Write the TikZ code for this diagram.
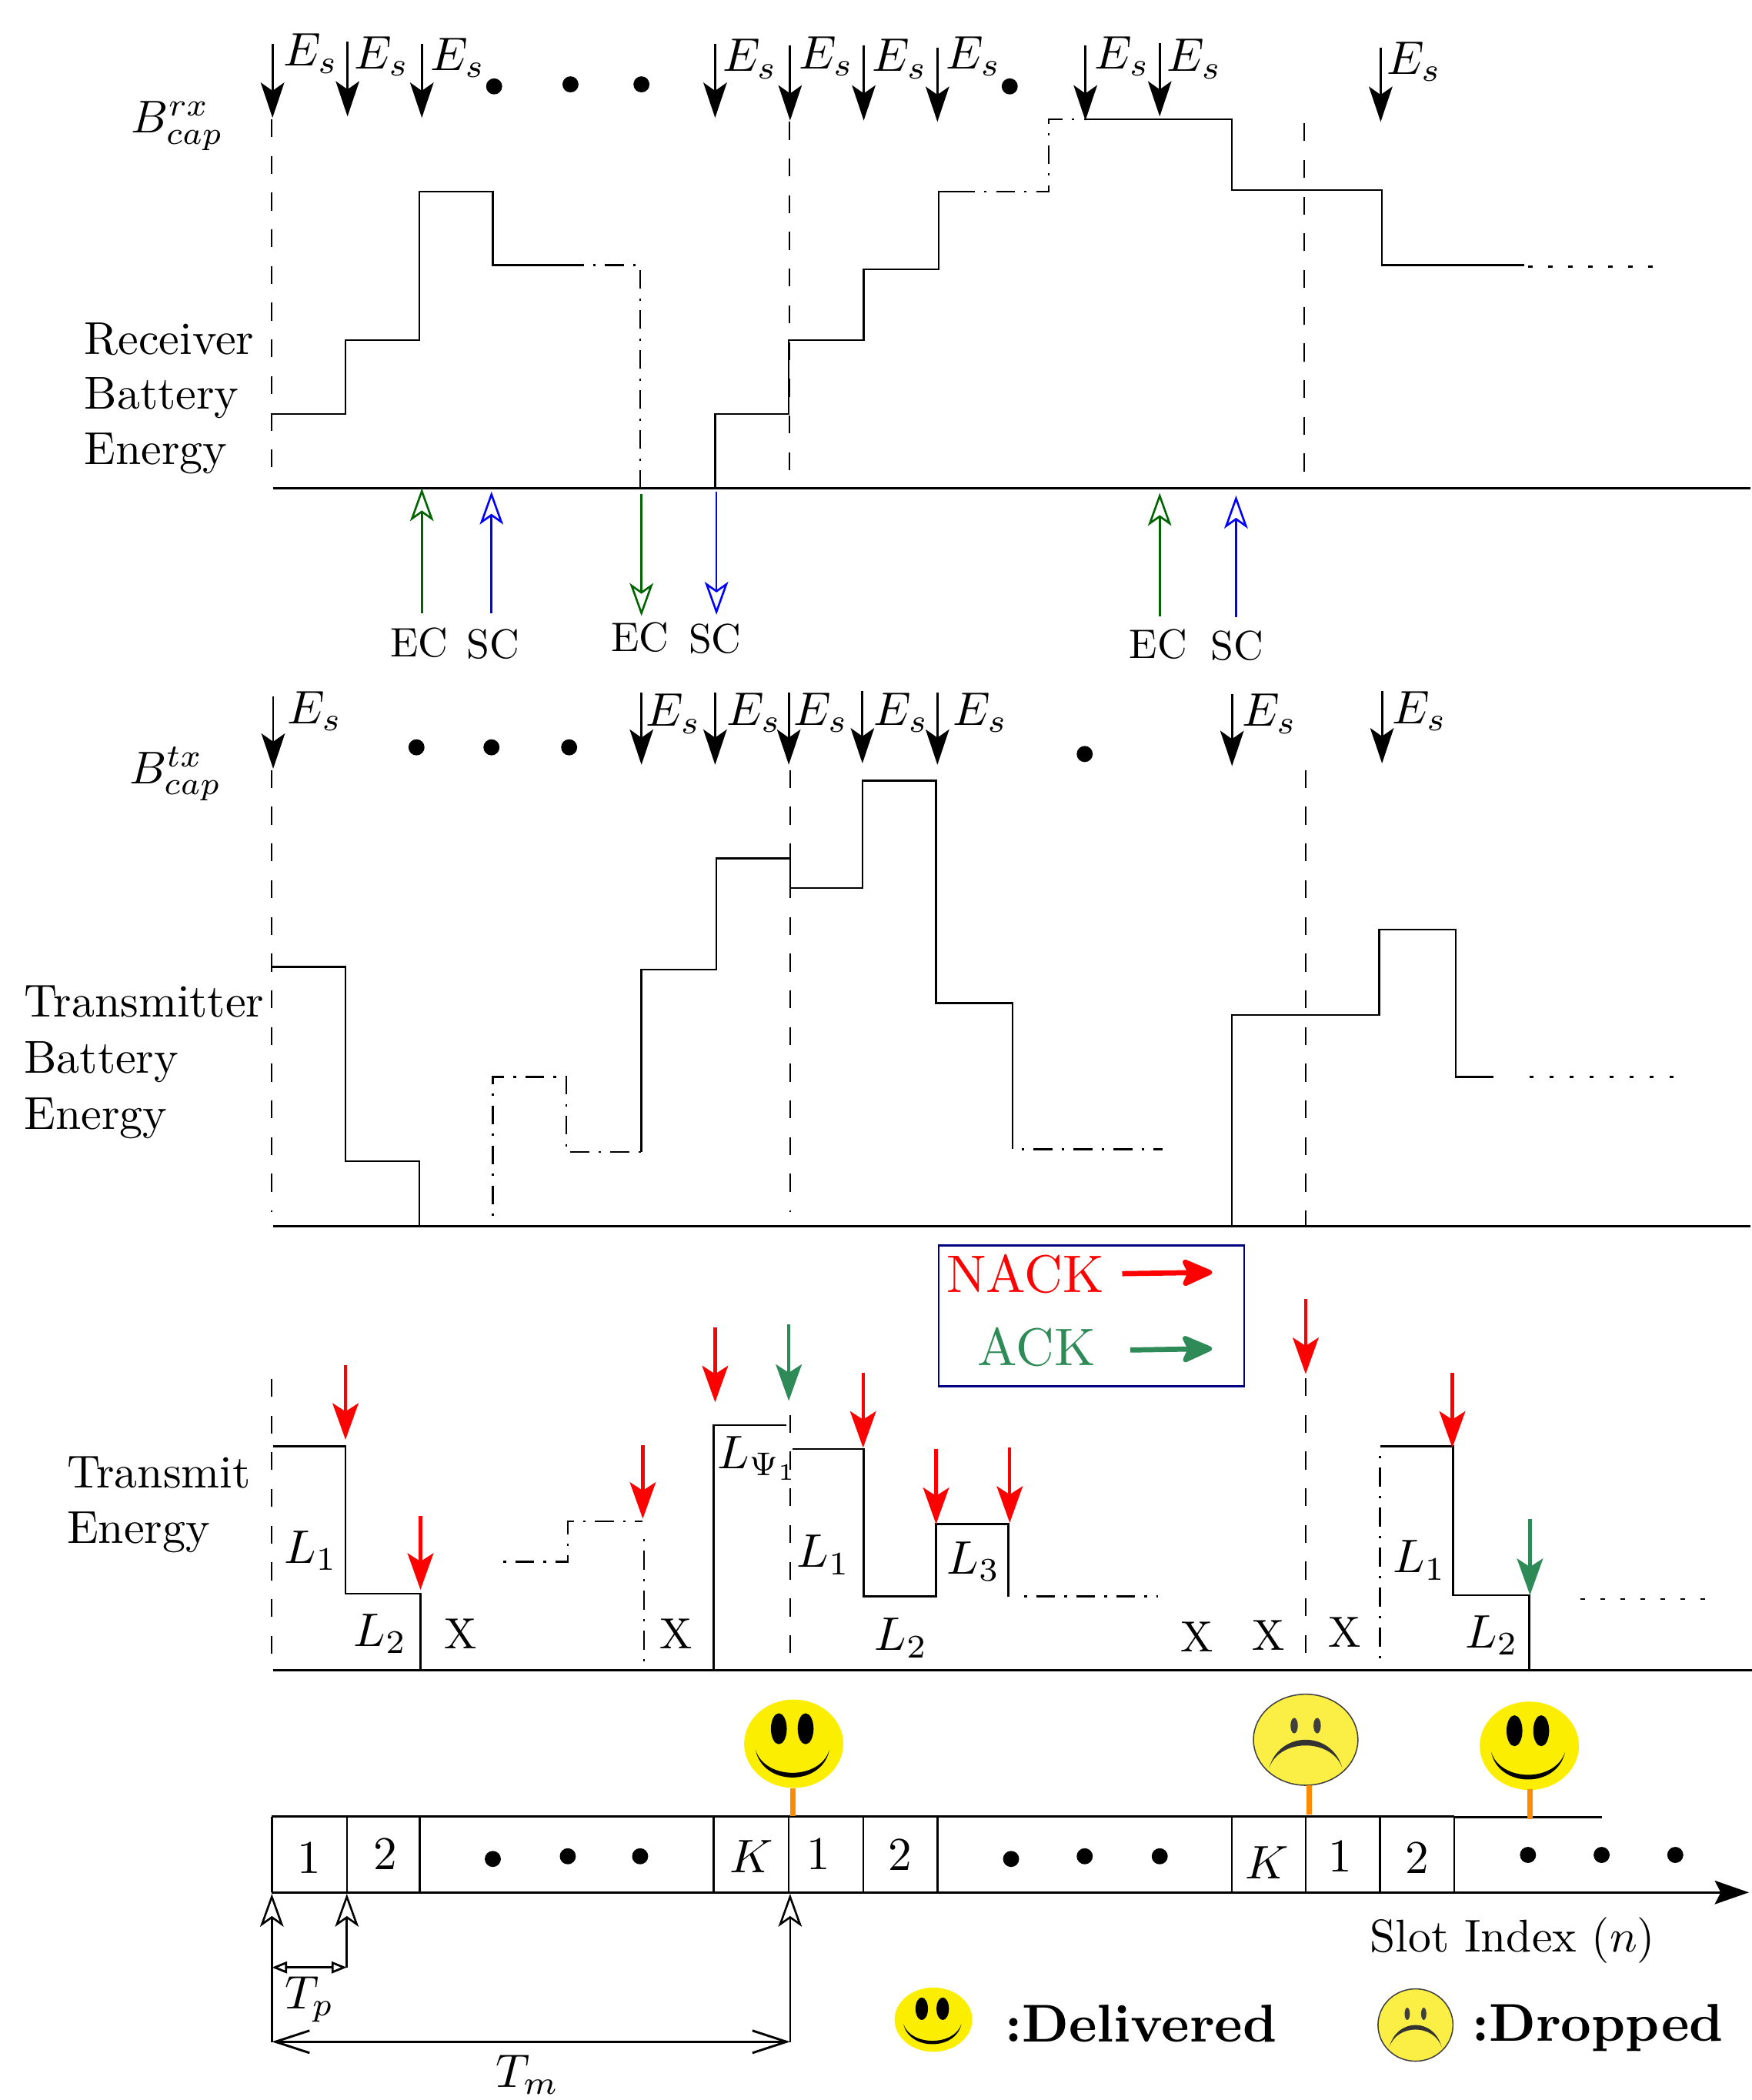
\documentclass[tikz,border=0pt]{standalone}
\usetikzlibrary{arrows.meta}
\definecolor{ackgreen}{RGB}{46,139,87}
\definecolor{ecgreen}{RGB}{0,100,0}
\definecolor{boxblue}{RGB}{0,0,128}
\definecolor{happyy}{RGB}{252,238,0}
\definecolor{sady}{RGB}{251,239,69}
\definecolor{stem}{RGB}{255,140,0}
\newcommand{\smilehappy}[4]{%
  \begin{scope}[shift={(#1,#2)},xscale=#3,yscale=#4]
    \fill[happyy] (0,0) circle [radius=1];
    \fill[black] (-.30,-.34) ellipse [x radius=.16,y radius=.35];
    \fill[black] (.24,-.34) ellipse [x radius=.16,y radius=.35];
    \fill[black] (-.77,.14) .. controls (-.62,.97) and (.57,.97) .. (.72,.14)
      .. controls (.53,.83) and (-.58,.83) .. (-.77,.14) -- cycle;
  \end{scope}}
\newcommand{\smilesad}[4]{%
  \begin{scope}[shift={(#1,#2)},xscale=#3,yscale=#4]
    \fill[sady] (0,0) circle [radius=1];
    \draw[black!75,line width=.5pt] (0,0) circle [radius=1];
    \fill[black!75] (-.22,-.31) ellipse [x radius=.07,y radius=.17];
    \fill[black!75] (.22,-.31) ellipse [x radius=.07,y radius=.17];
    \fill[black!80] (-.70,.62) .. controls (-.5,-.207) and (.5,-.207) .. (.70,.62)
      .. controls (.5,-.04) and (-.5,-.04) .. (-.70,.62) -- cycle;
  \end{scope}}
\tikzset{
  x=0.02cm,y=-0.02cm,
  every node/.style={inner sep=0pt,outer sep=0pt},
  mtxt/.style={scale=2},
  xmark/.style={scale=1.85},
  txt/.style={anchor=base west,scale=1.96},
  capl/.style={scale=1.95},
  lbl/.style={scale=1.75},
  num/.style={scale=2},
  big/.style={scale=2.26,font=\bfseries},
  levelline/.style={black,line width=.8pt,line join=miter},
  axisline/.style={black,line width=.95pt},
  vdash/.style={black,line width=.7pt,dash pattern=on 7.6pt off 8pt},
  dashdot/.style={black,line width=.8pt,dash pattern=on 8pt off 4pt on 1pt off 4pt,dash phase=8pt},
  dotline/.style={black,line width=.8pt,dash pattern=on 1.9pt off 6.6pt},
  esarrow/.style={black,line width=.9pt,-{Stealth[length=15pt,width=10pt,inset=3.5pt]}},
  fbarrow/.style={line width=1.4pt,-{Stealth[length=15.5pt,width=11pt,inset=3.5pt]}},
  openarrow/.style={line width=.85pt,-{Stealth[open,length=14pt,width=10pt,inset=3.5pt,line width=.85pt]}},
  legarrow/.style={line width=2.2pt,-{Stealth[length=15pt,width=13pt,inset=3pt,round]}},
  dot/.style={fill=black},
  stemline/.style={stem,line width=2.3pt},
}
\begin{document}
\begin{tikzpicture}
\useasboundingbox (0,0) rectangle (1308,1568);
% ===== receiver panel
\draw[vdash] (203,89)--(203,360);
\draw[vdash] (589.5,91)--(589.5,355);
\draw[vdash] (974,92)--(974,355);
\draw[levelline] (203,309)--(258,309)--(258,254)--(313,254)--(313,143)--(368,143)--(368,198)--(436,198);
\draw[dashdot] (436,198)--(478,198)--(478,364);
\draw[levelline] (534,364)--(534,309)--(589,309)--(589,254)--(645,254)--(645,201)--(701,201)--(701,143)--(728,143);
\draw[dashdot] (728,143)--(783,143)--(783,89)--(811,89);
\draw[levelline] (811,89)--(920,89)--(920,142)--(1032,142)--(1032,198)--(1138,198);
\draw[dotline] (1141,199)--(1245,199);
\draw[axisline] (204,364.5)--(1307,364.5);
\foreach \x/\a/\b in {203.5/33/88,259.5/31/87,315/33/88,534/33/88,590/34/90,645/34/90,700/35.5/91,810.5/34/90,866/32/87,1031/35.5/91}
  \draw[esarrow] (\x,\a)--(\x,\b);
\foreach \i/\x/\y in {1/232/40,2/285/42,3/342/43,4/560/44,5/617/42,6/672/44,7/727/42,8/838/42,9/892/44,10/1056/46}
  \node[mtxt] (esr\i) at (\x,\y) {$E_s$};
\foreach \i/\x/\y in {1/369/64.5,2/426/63,3/479/63,4/754/64.5}
  \fill[dot] (\x,\y) circle [radius=6];
\node[capl] (bcaprx) at (132.5,94) {$B_{cap}^{rx}$};
\node[txt] (r1) at (63,264.5) {Receiver};
\node[txt] (r2) at (63,305.5) {Battery};
\node[txt] (r3) at (63,347) {Energy};
\draw[openarrow,ecgreen] (315,458)--(315,364.5);
\draw[openarrow,blue] (367,458)--(367,367);
\draw[openarrow,ecgreen] (479,369)--(479,460);
\draw[openarrow,blue] (535,367)--(535,459);
\draw[openarrow,ecgreen] (866,460)--(866,368);
\draw[openarrow,blue] (923,461)--(923,370);
\node[lbl] (ec1) at (313,480) {EC};
\node[lbl] (sc1) at (368,481) {SC};
\node[lbl] (ec2) at (478,476) {EC};
\node[lbl] (sc2) at (534,477) {SC};
\node[lbl] (ec3) at (865,481) {EC};
\node[lbl] (sc3) at (924,482) {SC};
% ===== transmitter panel
\draw[vdash] (203,575)--(203,905);
\draw[vdash] (590,575)--(590,905);
\draw[vdash] (975,575)--(975,915);
\draw[levelline] (203,722)--(258,722)--(258,867)--(313,867)--(313,915);
\draw[dashdot] (368,915)--(368,804)--(423,804)--(423,860)--(479,860);
\draw[levelline] (479,860)--(479,724)--(535,724)--(535,641)--(590,641)--(590,663)--(644,663)--(644,583)--(699,583)--(699,749)--(756,749)--(756,858);
\draw[dashdot] (756,858)--(868,858);
\draw[levelline] (920,915)--(920,758)--(1030,758)--(1030,694)--(1087,694)--(1087,804)--(1115,804);
\draw[dotline] (1142,804)--(1258,804);
\draw[axisline] (204,915.5)--(1307,915.5);
\foreach \x/\a/\b in {204/520/574,479/517/571,534/517/571,589/517/571,644/516/570,700/517/571,920/518/572,1032/516/570}
  \draw[esarrow] (\x,\a)--(\x,\b);
\foreach \i/\x/\y in {1/235/531,2/503/533,3/563/532,4/613/532,5/673/532,6/732/532,7/948/533,8/1060/531}
  \node[mtxt] (est\i) at (\x,\y) {$E_s$};
\foreach \i/\x/\y in {1/311/558,2/367/558,3/425/558,4/810/563}
  \fill[dot] (\x,\y) circle [radius=6];
\node[capl] (bcaptx) at (131,578) {$B_{cap}^{tx}$};
\node[txt] (t1) at (18,759) {Transmitter};
\node[txt] (t2) at (18,801) {Battery};
\node[txt] (t3) at (18,843) {Energy};
% ===== legend
\draw[boxblue,line width=.9pt] (701,930) rectangle (929,1035);
\node[scale=2.25,text=red] (nack) at (765.5,951) {NACK};
\node[scale=2.25,text=ackgreen] (ack) at (774,1006) {ACK};
\draw[legarrow,red] (838,951)--(905,950);
\draw[legarrow,ackgreen] (844,1008)--(905,1007);
% ===== transmit energy panel
\draw[vdash] (203,1029.5)--(203,1238);
\draw[vdash] (590,1056.5)--(590,1236);
\draw[vdash] (975,1029)--(975,1236);
\draw[dashdot] (481,1142)--(481,1245);
\draw[dashdot] (1030.5,1080)--(1030.5,1239);
\draw[levelline] (204,1080)--(258,1080)--(258,1190)--(314,1190)--(314,1247);
\draw[dashdot] (369,1166)--(424,1166)--(424,1136)--(480,1136);
\draw[levelline] (533,1247)--(533,1064)--(587,1064);
\draw[levelline] (592,1082)--(645,1082)--(645,1192)--(699,1192)--(699,1138)--(753,1138)--(753,1192);
\draw[dashdot] (758,1192)--(865,1192);
\draw[levelline] (1031,1080)--(1085,1080)--(1085,1191)--(1142,1191)--(1142,1247);
\draw[dotline] (1180,1194)--(1282,1194);
\draw[axisline] (204,1247)--(1308,1247);
\foreach \x/\a/\b in {258/1019/1075,314/1132/1187,480/1079/1134,534/991/1047,644.5/1025/1081,699/1082/1138,754/1081/1137,975/970/1026,1084.5/1025/1081}
  \draw[fbarrow,red] (\x,\a)--(\x,\b);
\foreach \x/\a/\b in {589/989/1046,1142.5/1134/1191}
  \draw[fbarrow,ackgreen] (\x,\a)--(\x,\b);
\node[mtxt] (l1) at (232,1158) {$L_1$};
\node[mtxt] (l2) at (284,1220) {$L_2$};
\node[xmark] (x1) at (344,1220) {X};
\node[xmark] (x2) at (505,1220) {X};
\node[mtxt] (lpsi) at (566,1089) {$L_{\Psi_1}$};
\node[mtxt] (l3) at (615,1161) {$L_1$};
\node[mtxt] (l4) at (673,1223) {$L_2$};
\node[mtxt] (l5) at (727,1166) {$L_3$};
\node[xmark] (x3) at (894,1222) {X};
\node[xmark] (x4) at (947,1221) {X};
\node[xmark] (x5) at (1004,1219) {X};
\node[mtxt] (l6) at (1060,1165) {$L_1$};
\node[mtxt] (l7) at (1114,1221) {$L_2$};
\node[txt] (te1) at (50,1111) {Transmit};
\node[txt] (te2) at (50,1152) {Energy};
% ===== slots
\draw[axisline] (203,1356.5)--(1086,1356.5);
\draw[axisline] (1086,1357)--(1196,1357);
\foreach \x in {203,259,313.5,533,589,644.5,700,920,975,1030.5,1086}
  \draw[levelline] (\x,1356.5)--(\x,1413);
\draw[axisline,-{Stealth[length=14.5pt,width=10pt,inset=2.5pt]}] (203,1413)--(1306,1413);
\node[num] (s1) at (231,1387) {1};
\node[num] (s2) at (288,1384) {2};
\node[num] (s3) at (561,1386) {$K$};
\node[num] (s4) at (611,1384) {1};
\node[num] (s5) at (672,1385) {2};
\node[num] (s6) at (946,1391) {$K$};
\node[num] (s7) at (1001,1386) {1};
\node[num] (s8) at (1058,1387) {2};
\foreach \x/\y in {368/1388,424/1386,478/1386,755/1388,810/1386,866/1386,1141/1385,1196/1385,1251/1385}
  \fill[dot] (\x,\y) circle [radius=6];
\draw[openarrow,black] (203,1525)--(203,1414);
\draw[openarrow,black] (259,1469)--(259,1414);
\draw[openarrow,black] (590,1525)--(590,1414);
\draw[black,line width=.9pt,{Stealth[open,length=6.5pt,width=5pt,inset=0pt]}-{Stealth[open,length=6.5pt,width=5pt,inset=0pt]}] (203,1469)--(259,1469);
\draw[black,line width=.95pt,{Straight Barb[length=14.5pt,width=9.5pt]}-{Straight Barb[length=14.5pt,width=9.5pt]}] (203,1524.5)--(590,1524.5);
\node[mtxt] (tp) at (231,1493) {$T_p$};
\node[mtxt] (tm) at (394,1549) {$T_m$};
\node[scale=1.95] (slotidx) at (1129.5,1449) {Slot Index $(n)$};
% ===== smileys
\smilehappy{592.7}{1302}{37}{33}
\smilesad{975}{1299}{39}{34}
\smilehappy{1142}{1303.5}{37}{33}
\smilehappy{697}{1508}{29}{24}
\smilesad{1057}{1512}{28}{27}
\draw[stemline] (592,1335)--(592,1356);
\draw[stemline] (977.5,1333)--(977.5,1355);
\draw[stemline] (1142.5,1336)--(1142.5,1358.5);
\node[big] (deliv) at (852,1511) {:Delivered};
\node[big] (drop) at (1193,1514) {:Dropped};
\end{tikzpicture}
\end{document}
